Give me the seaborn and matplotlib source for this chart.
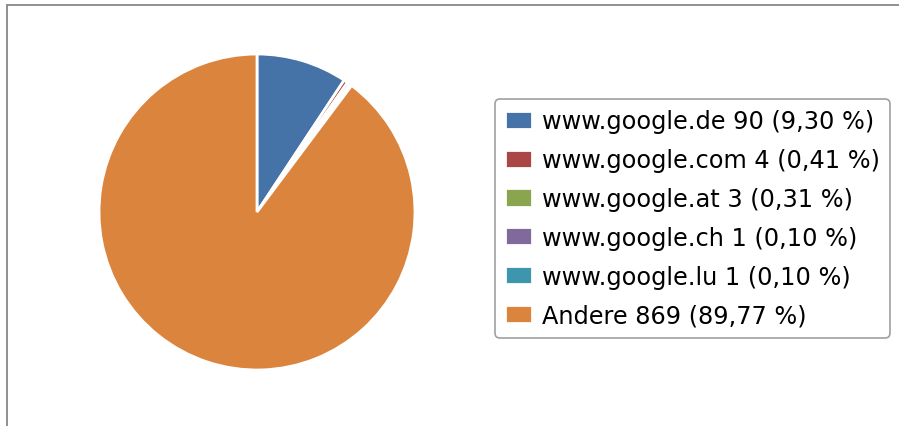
import matplotlib.pyplot as plt
from matplotlib.lines import Line2D
import seaborn as sns

sns.set_theme(style="white")
plt.rcParams["font.family"] = ["DejaVu Sans"]

# Daten
domains = ["www.google.de", "www.google.com", "www.google.at",
           "www.google.ch", "www.google.lu", "Andere"]
counts = [90, 4, 3, 1, 1, 869]
percents = ["9,30", "0,41", "0,31", "0,10", "0,10", "89,77"]
colors = ["#4572A7", "#AA4643", "#89A54E", "#80699B", "#3D96AE", "#DB843D"]

labels = [f"{d} {c} ({p} %)" for d, c, p in zip(domains, counts, percents)]
sns.set_palette(colors)

W, H = 899, 427
fig = plt.figure(figsize=(W / 100, H / 100), dpi=100)

cx, cy, r = 257, 213, 158
ax = fig.add_axes([(cx - r) / W, (H - cy - r) / H, 2 * r / W, 2 * r / H])
wedges, _ = ax.pie(
    counts,
    colors=sns.color_palette(),
    startangle=90,
    counterclock=False,
    wedgeprops=dict(edgecolor="white", linewidth=2),
)
ax.set_xlim(-1, 1)
ax.set_ylim(-1, 1)
ax.set_aspect("equal")

leg = fig.legend(
    wedges, labels,
    loc="upper left",
    bbox_to_anchor=(495 / W, 1 - 100 / H),
    borderaxespad=0,
    prop=dict(family="DejaVu Sans", size=17.3),
    labelcolor="black",
    frameon=True,
    fancybox=True,
    edgecolor="#888888",
    handlelength=1.1,
    handleheight=0.78,
    labelspacing=0.62,
    borderpad=0.42,
    handletextpad=0.42,
)
leg.get_frame().set_linewidth(1.2)

# grauer Rahmen oben und links
fig.add_artist(Line2D([7 / W, 1], [1 - 5.5 / H, 1 - 5.5 / H], color="#888888", lw=1.3))
fig.add_artist(Line2D([7 / W, 7 / W], [0, 1 - 5.5 / H], color="#888888", lw=1.3))

fig.savefig("out.png", dpi=100)
